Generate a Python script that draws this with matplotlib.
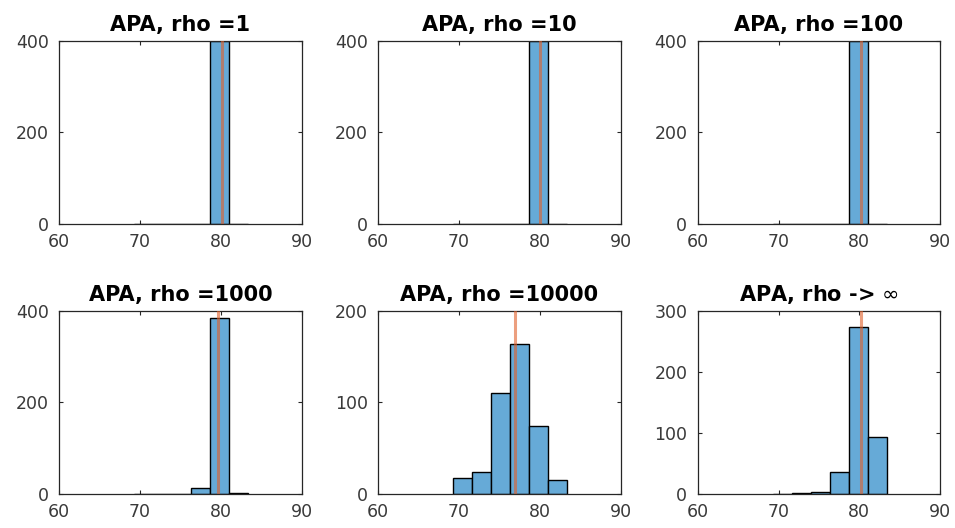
import matplotlib
matplotlib.use("Agg")
import matplotlib.pyplot as plt
import numpy as np

plt.rcParams['font.family'] = ['DejaVu Sans']
plt.rcParams['mathtext.fontset'] = 'dejavusans'

titles = ["APA, rho =1", "APA, rho =10", "APA, rho =100",
          "APA, rho =1000", "APA, rho =10000", r"APA, rho -> $\infty$"]
bin_edges = [69.3, 71.65, 74.0, 76.35, 78.7, 81.05, 83.4]
counts_rho1 = [0, 0, 0, 0, 400, 0]
counts_rho10 = [0, 0, 0, 0, 400, 0]
counts_rho100 = [0, 0, 0, 0, 400, 0]
counts_rho1000 = [0, 0, 0, 12, 385, 3]
counts_rho10000 = [17, 24, 110, 164, 74, 15]
counts_inf = [0, 1, 3, 36, 274, 93]
means = [80.1, 80.0, 80.25, 79.6, 76.9, 80.25]
ylims = [400, 400, 400, 400, 200, 300]
yticks = [[0, 200, 400], [0, 200, 400], [0, 200, 400], [0, 200, 400],
          [0, 100, 200], [0, 100, 200, 300]]
xticks = [60, 70, 80, 90]

all_counts = [counts_rho1, counts_rho10, counts_rho100,
              counts_rho1000, counts_rho10000, counts_inf]

fig = plt.figure(figsize=(9.55, 5.28), dpi=100)
lefts = [0.0621, 0.3961, 0.7306]
bottoms = [0.5758, 0.0644]
w, h = 0.2538, 0.3472

axcol = '#262626'
edges = np.array(bin_edges)
widths = np.diff(edges)
for i in range(6):
    r, c = divmod(i, 3)
    ax = fig.add_axes([lefts[c], bottoms[r], w, h])
    ax.bar(edges[:-1], all_counts[i], width=widths, align='edge',
           color='#66AAD7', edgecolor='black', linewidth=1.0, zorder=2)
    ax.axvline(means[i], color='#E0602A', alpha=0.6, lw=2.2, zorder=3)
    ax.set_xlim(60, 90)
    ax.set_ylim(0, ylims[i])
    ax.set_xticks(xticks)
    ax.set_yticks(yticks[i])
    ax.tick_params(direction='in', top=True, right=True, length=3,
                   labelsize=12.5, color=axcol, labelcolor='#3a3a3a',
                   width=0.8)
    ax.tick_params(axis='y', pad=7.5)
    ax.tick_params(axis='x', pad=6.5)
    for s in ax.spines.values():
        s.set_color(axcol)
        s.set_linewidth(0.9)
    ax.set_title(titles[i], fontsize=15, fontweight='bold', pad=7)

fig.savefig("out.png", dpi=100)
